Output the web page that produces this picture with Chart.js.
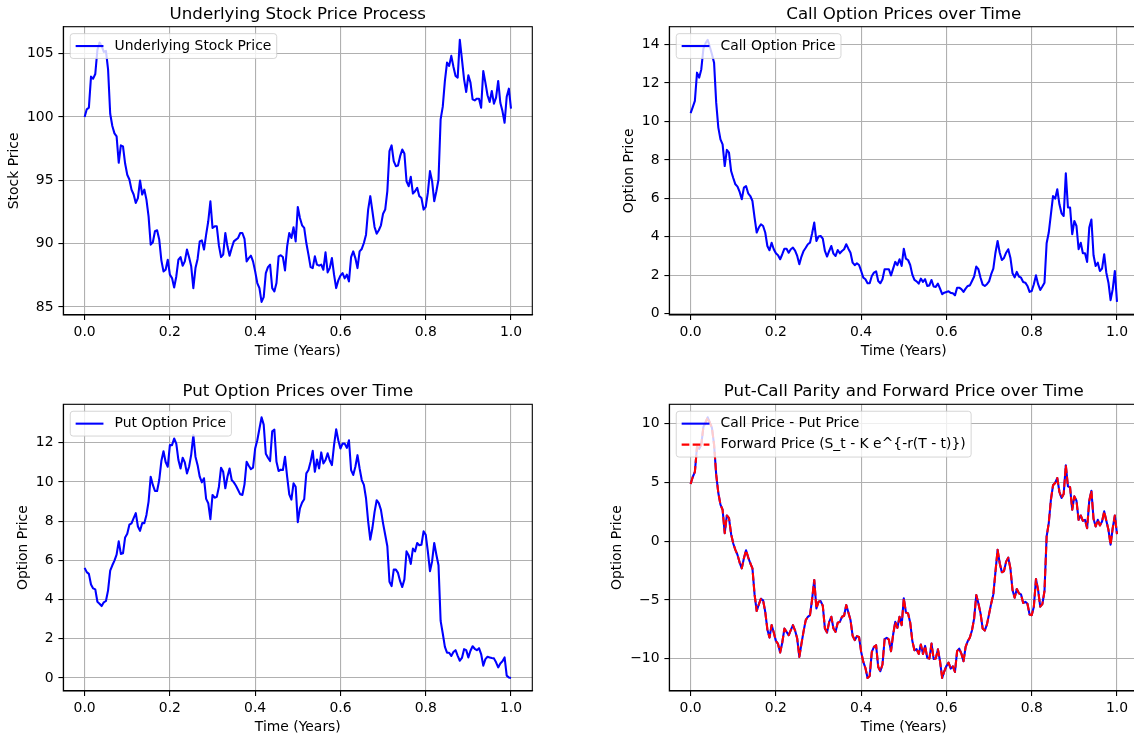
<!DOCTYPE html>
<html>
<head>
<meta charset="utf-8">
<title>Option pricing paths</title>
<script src="https://cdn.jsdelivr.net/npm/chart.js@4.4.1/dist/chart.umd.min.js"></script>
<style>
  html, body { margin: 0; padding: 0; background: #ffffff; width: 1134px; height: 735px; overflow: hidden; }
  .panel { position: absolute; }
  .panel canvas { display: block; }
</style>
</head>
<body>
<div class="panel" style="left:0px;top:0px;"><canvas id="stockChart" width="560" height="367"></canvas></div>
<div class="panel" style="left:560px;top:0px;"><canvas id="callChart" width="600" height="367"></canvas></div>
<div class="panel" style="left:0px;top:367px;"><canvas id="putChart" width="560" height="380"></canvas></div>
<div class="panel" style="left:560px;top:367px;"><canvas id="parityChart" width="600" height="380"></canvas></div>
<script>
// Simulated path sampled every 0.005 years over one year (T = 1).
const stockPrice = [
  100.00, 100.61, 100.74, 103.19, 103.03, 103.40, 105.30, 105.88, 105.62, 105.15,
  105.22, 103.77, 100.26, 99.29, 98.71, 98.47, 96.39, 97.76, 97.68, 96.33,
  95.44, 95.07, 94.27, 93.88, 93.22, 93.60, 94.99, 93.88, 94.27, 93.48,
  92.16, 89.92, 90.11, 90.98, 91.06, 90.32, 88.68, 87.81, 87.94, 88.73,
  87.55, 87.28, 86.54, 87.41, 88.73, 88.94, 88.26, 88.60, 89.53, 88.92,
  88.21, 86.49, 88.07, 88.79, 90.18, 90.26, 89.53, 90.71, 91.77, 93.35,
  91.24, 91.37, 91.37, 89.84, 88.94, 89.13, 90.84, 89.79, 89.05, 89.66,
  90.18, 90.32, 90.45, 90.84, 90.84, 90.37, 88.60, 88.86, 89.05, 88.60,
  87.81, 86.89, 86.49, 85.40, 85.78, 87.68, 88.15, 88.34, 86.49, 86.23,
  86.89, 89.00, 89.08, 88.94, 87.89, 89.79, 90.84, 90.45, 91.30, 90.18,
  92.90, 92.03, 91.45, 91.24, 90.05, 89.13, 88.15, 88.07, 89.00, 88.34,
  88.26, 88.34, 87.94, 89.31, 87.73, 88.07, 88.86, 87.55, 86.49, 87.10,
  87.47, 87.68, 87.26, 87.55, 87.02, 88.94, 89.39, 88.86, 88.07, 89.39,
  89.58, 90.05, 90.71, 92.69, 93.75, 92.56, 91.32, 90.79, 91.06, 91.45,
  92.37, 92.69, 94.14, 97.31, 97.76, 96.52, 96.12, 96.17, 96.91, 97.44,
  97.12, 94.93, 94.54, 95.28, 93.96, 94.14, 94.41, 93.75, 93.61, 92.69,
  92.90, 94.01, 95.73, 94.93, 93.35, 94.14, 95.07, 99.82, 100.82, 102.85,
  104.30, 104.04, 104.83, 103.98, 103.25, 103.11, 106.10, 104.56, 102.98, 101.98,
  103.30, 102.72, 101.40, 101.32, 101.45, 101.45, 100.74, 103.64, 102.72, 101.72,
  101.19, 102.06, 101.06, 101.53, 102.85, 101.13, 100.47, 99.55, 101.61, 102.24,
  100.66
];

const callPrice = [
  10.43, 10.75, 11.07, 12.54, 12.28, 12.71, 13.79, 14.07, 14.25, 13.89,
  13.50, 13.06, 10.98, 9.68, 9.07, 8.81, 7.68, 8.52, 8.38, 7.42,
  7.06, 6.73, 6.61, 6.33, 5.95, 6.56, 6.64, 6.26, 6.12, 5.86,
  5.00, 4.22, 4.48, 4.65, 4.56, 4.22, 3.52, 3.30, 3.69, 3.35,
  3.14, 3.04, 2.83, 3.09, 3.38, 3.38, 3.17, 3.35, 3.43, 3.28,
  3.00, 2.57, 2.97, 3.26, 3.43, 3.61, 3.69, 4.18, 4.74, 3.78,
  4.01, 4.04, 3.90, 3.26, 2.97, 3.26, 3.52, 3.12, 3.00, 3.31,
  3.14, 3.26, 3.35, 3.61, 3.38, 3.17, 2.65, 2.52, 2.62, 2.53,
  2.22, 1.87, 1.79, 1.58, 1.58, 1.96, 2.13, 2.20, 1.70, 1.58,
  1.79, 2.31, 2.31, 2.31, 1.99, 2.34, 2.69, 2.52, 2.83, 2.48,
  3.38, 2.86, 2.79, 2.53, 2.03, 1.75, 1.68, 1.56, 1.82, 1.65,
  1.79, 1.44, 1.47, 1.75, 1.41, 1.39, 1.56, 1.30, 1.01, 1.09,
  1.13, 1.16, 1.08, 1.06, 0.95, 1.35, 1.35, 1.27, 1.13, 1.30,
  1.44, 1.47, 1.70, 1.93, 2.45, 2.31, 1.87, 1.51, 1.44, 1.53,
  1.68, 2.05, 2.34, 3.17, 3.78, 3.17, 2.79, 2.90, 3.17, 3.35,
  2.91, 2.10, 1.89, 2.17, 1.93, 1.87, 1.65, 1.61, 1.44, 1.13,
  1.18, 1.53, 1.99, 1.53, 1.23, 1.41, 1.61, 3.66, 4.22, 5.17,
  6.12, 5.98, 6.47, 5.69, 5.22, 5.08, 7.30, 5.52, 5.52, 4.13,
  4.82, 4.56, 3.35, 3.69, 3.14, 3.14, 2.69, 4.48, 4.90, 3.04,
  2.48, 2.65, 2.22, 2.34, 3.09, 2.13, 1.61, 0.70, 1.27, 2.22,
  0.61
];

const putPrice = [
  5.62, 5.40, 5.31, 4.77, 4.57, 4.52, 3.89, 3.79, 3.67, 3.86,
  3.93, 4.47, 5.48, 5.75, 5.99, 6.29, 6.97, 6.33, 6.36, 7.17,
  7.36, 7.82, 7.89, 8.16, 8.41, 7.73, 7.51, 7.90, 7.90, 8.32,
  9.00, 10.27, 9.85, 9.54, 9.54, 10.10, 11.07, 11.57, 11.02, 10.78,
  11.88, 11.88, 12.22, 11.96, 11.12, 10.69, 11.24, 11.00, 10.44, 10.78,
  11.40, 12.39, 11.29, 10.86, 10.27, 9.98, 10.19, 9.14, 8.92, 8.10,
  9.34, 9.20, 9.24, 9.76, 10.73, 10.52, 9.68, 10.27, 10.69, 10.10,
  9.98, 9.81, 9.59, 9.37, 9.34, 9.88, 11.03, 10.83, 10.66, 10.73,
  11.71, 12.13, 12.72, 13.30, 12.93, 11.44, 11.24, 11.07, 12.59, 12.67,
  11.03, 10.56, 10.63, 10.61, 11.29, 10.27, 9.37, 9.10, 9.93, 9.76,
  7.95, 8.66, 8.95, 9.12, 10.44, 10.61, 11.03, 11.59, 10.52, 11.15,
  10.69, 11.51, 10.95, 11.12, 11.47, 11.10, 10.86, 11.88, 12.69, 12.13,
  11.71, 11.96, 11.96, 11.74, 12.13, 10.61, 10.36, 10.78, 11.37, 10.69,
  10.10, 9.85, 9.17, 7.99, 7.06, 7.65, 8.46, 9.07, 8.92, 8.58,
  7.89, 7.31, 6.72, 4.91, 4.69, 5.53, 5.53, 5.36, 4.94, 4.64,
  5.03, 6.46, 6.26, 5.82, 6.60, 6.46, 6.89, 6.77, 6.80, 7.48,
  7.31, 6.46, 5.45, 5.96, 6.89, 6.29, 5.75, 2.91, 2.27, 1.59,
  1.29, 1.29, 1.12, 1.32, 1.42, 1.13, 0.88, 1.02, 1.47, 1.42,
  1.05, 1.39, 1.62, 1.49, 1.42, 1.52, 1.22, 0.63, 0.96, 1.08,
  1.05, 1.02, 1.00, 0.80, 0.54, 0.74, 0.85, 1.05, 0.12, 0.02,
  0.00
];

// Call minus put; by put-call parity this equals S_t - K e^{-r(T-t)}.
const parityGap = [
  4.87, 5.47, 5.90, 8.06, 7.86, 8.23, 9.74, 10.11, 10.55, 10.11,
  9.66, 8.23, 5.67, 4.10, 3.11, 2.68, 0.68, 2.19, 1.97, 0.60,
  -0.20, -0.74, -1.17, -1.82, -2.31, -1.45, -0.77, -1.37, -1.88, -2.31,
  -4.53, -5.95, -5.38, -4.90, -5.04, -6.01, -7.52, -8.21, -7.15, -7.78,
  -8.49, -8.75, -9.49, -8.63, -7.44, -7.72, -8.01, -7.58, -7.15, -7.61,
  -8.29, -9.86, -8.72, -7.66, -6.72, -6.44, -6.30, -4.93, -3.30, -5.73,
  -5.16, -5.10, -5.50, -7.44, -7.78, -6.87, -6.44, -7.44, -7.72, -6.95,
  -6.87, -6.44, -6.35, -5.44, -6.07, -6.72, -8.06, -8.43, -8.09, -8.15,
  -9.43, -10.28, -10.80, -11.65, -11.48, -9.43, -9.00, -8.86, -10.71, -11.08,
  -10.50, -8.35, -8.23, -8.38, -9.37, -7.95, -6.87, -7.38, -6.44, -7.15,
  -4.87, -6.07, -6.15, -6.92, -8.49, -9.29, -9.20, -9.60, -8.80, -9.60,
  -8.92, -9.94, -10.00, -8.72, -10.03, -10.00, -9.20, -10.23, -11.65, -11.08,
  -10.63, -10.34, -10.85, -10.66, -11.14, -9.37, -9.15, -9.57, -10.23, -9.00,
  -8.52, -8.21, -7.58, -6.58, -4.59, -5.30, -6.15, -7.44, -7.61, -7.09,
  -6.21, -5.30, -4.53, -2.59, -0.74, -1.88, -2.65, -2.54, -1.74, -1.40,
  -2.31, -4.16, -4.81, -4.07, -4.44, -4.53, -5.27, -5.16, -5.33, -6.24,
  -6.30, -5.58, -3.22, -4.16, -5.58, -5.36, -4.24, 0.40, 1.54, 3.53,
  4.76, 4.96, 5.38, 4.19, 3.68, 4.02, 6.47, 4.67, 4.59, 2.68,
  3.82, 3.45, 1.82, 2.19, 1.74, 1.82, 1.11, 3.45, 4.30, 1.91,
  1.25, 1.82, 1.34, 1.68, 2.54, 1.74, 0.97, -0.30, 1.11, 2.19,
  0.60
];

const timeTickValues = [0, 0.2, 0.4, 0.6, 0.8, 1.0];
const timeTickLabels = ['0.0', '0.2', '0.4', '0.6', '0.8', '1.0'];
const stockTickValues = [85, 90, 95, 100, 105];
const stockTickLabels = ['85', '90', '95', '100', '105'];
const callTickValues = [0, 2, 4, 6, 8, 10, 12, 14];
const callTickLabels = ['0', '2', '4', '6', '8', '10', '12', '14'];
const putTickValues = [0, 2, 4, 6, 8, 10, 12];
const putTickLabels = ['0', '2', '4', '6', '8', '10', '12'];
const parityTickValues = [-10, -5, 0, 5, 10];
const parityTickLabels = ['\u221210', '\u22125', '0', '5', '10'];

// Equally spaced time grid over [0, T].
const times = stockPrice.map((_, i) => i / (stockPrice.length - 1));

const FONT = '"DejaVu Sans", "Liberation Sans", sans-serif';
Chart.defaults.font.family = FONT;
Chart.defaults.color = '#000000';

// Matplotlib-style closed frame around the plotting area.
const axesFrame = {
  id: 'axesFrame',
  afterDatasetsDraw(chart) {
    const { ctx, chartArea: a } = chart;
    ctx.save();
    ctx.strokeStyle = '#000000';
    ctx.lineWidth = 1.1;
    ctx.strokeRect(a.left, a.top, a.right - a.left, a.bottom - a.top);
    ctx.restore();
  }
};

// Legend box placed inside the upper-left corner of the plotting area.
const insetLegend = {
  id: 'insetLegend',
  afterDraw(chart) {
    const { ctx, chartArea: a } = chart;
    const items = chart.data.datasets;
    const fontPx = 13.9, pad = 5.4, handle = 27.8, gap = 11.1, rowH = 14, spacing = 7, inset = 6.95, r = 2.8;
    ctx.save();
    ctx.font = fontPx + 'px ' + FONT;
    const textW = Math.max(...items.map(d => ctx.measureText(d.label).width));
    const w = pad + handle + gap + textW + pad;
    const h = 2 * pad + items.length * rowH + (items.length - 1) * spacing;
    const x0 = a.left + inset, y0 = a.top + inset;
    ctx.beginPath();
    ctx.moveTo(x0 + r, y0);
    ctx.arcTo(x0 + w, y0, x0 + w, y0 + h, r);
    ctx.arcTo(x0 + w, y0 + h, x0, y0 + h, r);
    ctx.arcTo(x0, y0 + h, x0, y0, r);
    ctx.arcTo(x0, y0, x0 + w, y0, r);
    ctx.closePath();
    ctx.fillStyle = 'rgba(255,255,255,0.8)';
    ctx.fill();
    ctx.lineWidth = 1;
    ctx.strokeStyle = 'rgba(204,204,204,0.8)';
    ctx.stroke();
    items.forEach((d, i) => {
      const cy = y0 + pad + rowH / 2 + i * (rowH + spacing);
      ctx.beginPath();
      ctx.setLineDash(d.borderDash || []);
      ctx.strokeStyle = d.borderColor;
      ctx.lineWidth = d.borderWidth;
      ctx.moveTo(x0 + pad, cy);
      ctx.lineTo(x0 + pad + handle, cy);
      ctx.stroke();
      ctx.setLineDash([]);
      ctx.fillStyle = '#000000';
      ctx.textAlign = 'left';
      ctx.textBaseline = 'middle';
      ctx.fillText(d.label, x0 + pad + handle + gap, cy);
    });
    ctx.restore();
  }
};

function paddedRange(arrays, frac) {
  const all = [].concat(...arrays);
  const lo = Math.min(...all), hi = Math.max(...all);
  const m = (hi - lo) * frac;
  return [lo - m, hi + m];
}

function buildPanel(p) {
  const [yMin, yMax] = paddedRange(p.series.map(s => s.values), 0.05);
  const [xMin, xMax] = paddedRange([times], 0.05);
  const datasets = p.series.map(s => ({
    label: s.label,
    data: s.values.map((v, i) => ({ x: times[i], y: v })),
    borderColor: s.color,
    borderWidth: 2.08,
    borderDash: s.dash || [],
    borderJoinStyle: 'round',
    pointRadius: 0,
    tension: 0,
    fill: false,
    order: s.order
  }));
  return new Chart(document.getElementById(p.canvas), {
    type: 'line',
    data: { datasets },
    options: {
      responsive: false,
      animation: false,
      events: [],
      parsing: false,
      layout: { padding: { left: 0, top: 0, right: p.padRight, bottom: 0 } },
      plugins: {
        legend: { display: false },
        tooltip: { enabled: false },
        title: {
          display: true,
          text: p.title,
          fullSize: false,
          color: '#000000',
          font: { family: FONT, size: 16.67, weight: 'normal', lineHeight: 1.2 },
          padding: p.titlePad
        }
      },
      scales: {
        x: {
          type: 'linear',
          min: xMin,
          max: xMax,
          bounds: 'data',
          afterFit: s => { s.height = p.xAxisHeight; },
          afterBuildTicks: s => { s.ticks = timeTickValues.map(v => ({ value: v })); },
          ticks: {
            autoSkip: false,
            maxRotation: 0,
            padding: 4,
            color: '#000000',
            font: { family: FONT, size: 13.9 },
            callback: (v, i) => timeTickLabels[i]
          },
          grid: { color: '#b0b0b0', lineWidth: 1.1, drawTicks: true, tickLength: 4.9, tickColor: '#000000', tickWidth: 1.1 },
          border: { display: true, color: '#000000', width: 1.1 },
          title: {
            display: true,
            text: 'Time (Years)',
            color: '#000000',
            font: { family: FONT, size: 13.9, lineHeight: 1.2 },
            padding: { top: 0, bottom: p.xTitlePad }
          }
        },
        y: {
          type: 'linear',
          min: yMin,
          max: yMax,
          bounds: 'data',
          afterFit: s => { s.width = p.yAxisWidth; },
          afterBuildTicks: s => { s.ticks = p.yTicks.map(v => ({ value: v })); },
          ticks: {
            autoSkip: false,
            padding: 4.9,
            color: '#000000',
            font: { family: FONT, size: 13.9 },
            callback: (v, i) => p.yLabels[i]
          },
          grid: { color: '#b0b0b0', lineWidth: 1.1, drawTicks: true, tickLength: 4.9, tickColor: '#000000', tickWidth: 1.1 },
          border: { display: true, color: '#000000', width: 1.1 },
          title: {
            display: true,
            text: p.yTitle,
            color: '#000000',
            font: { family: FONT, size: 13.9, lineHeight: 1.2 },
            padding: { top: p.yTitlePad, bottom: 0 }
          }
        }
      }
    },
    plugins: [axesFrame, insetLegend]
  });
}

buildPanel({
  canvas: 'stockChart',
  title: 'Underlying Stock Price Process',
  yTitle: 'Stock Price',
  series: [{ label: 'Underlying Stock Price', values: stockPrice, color: '#0000ff', order: 0 }],
  yTicks: stockTickValues, yLabels: stockTickLabels,
  yAxisWidth: 63.3, xAxisHeight: 52, padRight: 27.7,
  titlePad: { top: 4.3, bottom: 2.4 }, yTitlePad: 6.1, xTitlePad: 7.2
});

buildPanel({
  canvas: 'callChart',
  title: 'Call Option Prices over Time',
  yTitle: 'Option Price',
  series: [{ label: 'Call Option Price', values: callPrice, color: '#0000ff', order: 0 }],
  yTicks: callTickValues, yLabels: callTickLabels,
  yAxisWidth: 109.3, xAxisHeight: 52, padRight: 21.7,
  titlePad: { top: 4.3, bottom: 2.4 }, yTitlePad: 60.9, xTitlePad: 7.2
});

buildPanel({
  canvas: 'putChart',
  title: 'Put Option Prices over Time',
  yTitle: 'Option Price',
  series: [{ label: 'Put Option Price', values: putPrice, color: '#0000ff', order: 0 }],
  yTicks: putTickValues, yLabels: putTickLabels,
  yAxisWidth: 63.3, xAxisHeight: 56, padRight: 27.7,
  titlePad: { top: 14.9, bottom: 2.4 }, yTitlePad: 14.9, xTitlePad: 11.2
});

buildPanel({
  canvas: 'parityChart',
  title: 'Put-Call Parity and Forward Price over Time',
  yTitle: 'Option Price',
  series: [
    { label: 'Call Price - Put Price', values: parityGap, color: '#0000ff', order: 1 },
    { label: 'Forward Price (S_t - K e^{-r(T - t)})', values: parityGap, color: '#ff0000', dash: [7.7, 3.3], order: 0 }
  ],
  yTicks: parityTickValues, yLabels: parityTickLabels,
  yAxisWidth: 109.3, xAxisHeight: 56, padRight: 21.7,
  titlePad: { top: 14.9, bottom: 2.4 }, yTitlePad: 49.2, xTitlePad: 11.2
});
</script>
</body>
</html>
